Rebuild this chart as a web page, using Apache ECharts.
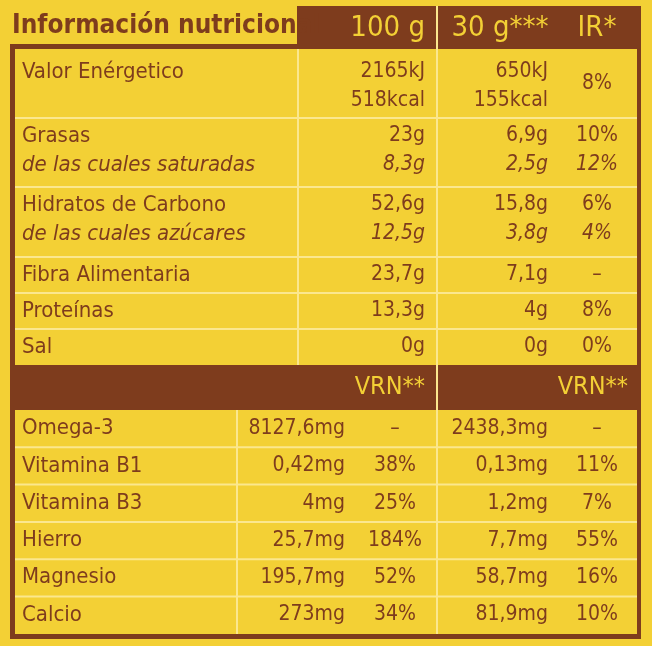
<!DOCTYPE html><html><head><meta charset="utf-8">
<script src="https://cdn.jsdelivr.net/npm/echarts@6/dist/echarts.min.js"></script>
<style>html,body{margin:0;padding:0;background:#F3D035}#c{width:652px;height:646px}</style></head><body><div id="c"></div>
<script>
const headers = ["Información nutricional", "100 g", "30 g***", "IR*"];
const mainRows = [
  {label:["Valor Enérgetico"], v100:["2165kJ","518kcal"], v30:["650kJ","155kcal"], ir:["8%"]},
  {label:["Grasas","de las cuales saturadas"], v100:["23g","8,3g"], v30:["6,9g","2,5g"], ir:["10%","12%"]},
  {label:["Hidratos de Carbono","de las cuales azúcares"], v100:["52,6g","12,5g"], v30:["15,8g","3,8g"], ir:["6%","4%"]},
  {label:["Fibra Alimentaria"], v100:["23,7g"], v30:["7,1g"], ir:["–"]},
  {label:["Proteínas"], v100:["13,3g"], v30:["4g"], ir:["8%"]},
  {label:["Sal"], v100:["0g"], v30:["0g"], ir:["0%"]}
];
const vrnLabel = "VRN**";
const microNames = ["Omega-3","Vitamina B1","Vitamina B3","Hierro","Magnesio","Calcio"];
const micro100 = ["8127,6mg","0,42mg","4mg","25,7mg","195,7mg","273mg"];
const microVrn100 = ["–","38%","25%","184%","52%","34%"];
const micro30 = ["2438,3mg","0,13mg","1,2mg","7,7mg","58,7mg","81,9mg"];
const microVrn30 = ["–","11%","7%","55%","16%","10%"];

const BROWN="#7E3C1D", YEL="#F3D035", LINE="#FBE78E";
const FONT="'Liberation Sans Narrow','DejaVu Sans Condensed','Roboto',sans-serif";
const els=[];
function txt(x,y,s,opt){opt=opt||{};els.push({type:'text',x:x,y:y,style:{text:s,fill:opt.fill||BROWN,font:(opt.italic?'italic ':'')+(opt.weight||'normal')+' '+(opt.size||21)+'px '+FONT,textAlign:opt.align||'left',textVerticalAlign:'middle'},z:10});}
function rect(x,y,w,h,f,z){els.push({type:'rect',shape:{x:x,y:y,width:w,height:h},style:{fill:f},z:z||1});}
function hl(x1,x2,y){rect(x1,y-1,x2-x1,2,LINE,5);}
function vl(x,y1,y2){rect(x-1,y1,2,y2-y1,LINE,5);}

// frame
rect(10,44,631,595,BROWN,0);
rect(15,49,622,585,YEL,0);
// header
rect(297,6,344,43,BROWN,2);
vl(437,6,49);
txt(12,26,headers[0],{size:26,weight:'bold'});
txt(425,28,headers[1],{size:29,fill:YEL,align:'right'});
txt(500,28,headers[2],{size:29,fill:YEL,align:'center'});
txt(597,28,headers[3],{size:29,fill:YEL,align:'center'});

const rowBounds=[[49,118],[118,187],[187,257],[257,293],[293,329],[329,365]];
mainRows.forEach((r,i)=>{
  const [a,b]=rowBounds[i];
  if(i>0) hl(15,637,a);
  const two = r.v100.length===2;
  const ys = two ? [a+(i===0?23:18), a+(i===0?52:47)] : [(a+b)/2];
  r.label.forEach((l,k)=>txt(22,ys[k],l,{size:22,weight:k===0?'500':'normal',italic:k===1}));
  r.v100.forEach((v,k)=>txt(425,ys[k],v,{align:'right',italic:i>0&&k===1}));
  r.v30.forEach((v,k)=>txt(548,ys[k],v,{align:'right',italic:i>0&&k===1}));
  if(r.ir.length===1) txt(597,(a+b)/2,r.ir[0],{align:'center'});
  else r.ir.forEach((v,k)=>txt(597,ys[k],v,{align:'center',italic:k===1}));
});
vl(298,49,365);
vl(437,49,634);
// VRN band
rect(15,365,622,45,BROWN,2);
vl(437,365,410);
txt(425,387,vrnLabel,{size:25,fill:YEL,align:'right'});
txt(628,387,vrnLabel,{size:25,fill:YEL,align:'right'});
// micro rows
microNames.forEach((n,i)=>{
  const a=410+i*37.3, c=a+18.5;
  if(i>0) hl(15,637,a);
  txt(22,c,n,{size:22,weight:'500'});
  txt(345,c,micro100[i],{align:'right'});
  txt(395,c,microVrn100[i],{align:'center'});
  txt(548,c,micro30[i],{align:'right'});
  txt(597,c,microVrn30[i],{align:'center'});
});
vl(237,410,634);

const chart=echarts.init(document.getElementById('c'));
chart.setOption({backgroundColor:YEL,graphic:{elements:els}});
</script></body></html>
